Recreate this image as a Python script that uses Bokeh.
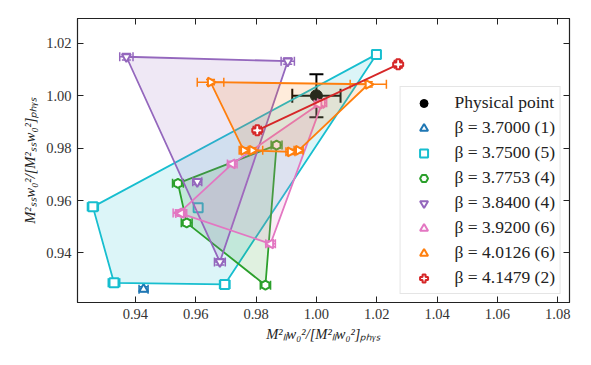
import math
from bokeh.plotting import figure
from bokeh.models import (Legend, LegendItem, LinearAxis, FixedTicker,
                          CustomJSTickFormatter, Range1d)
from bokeh.embed import file_html
from bokeh.resources import INLINE

# ---------------- data ----------------
phys_x = [1.0000]
phys_y = [1.0000]
phys_xerr = [0.0080]
phys_yerr = [0.0082]

b3700_x = [0.9427]
b3700_y = [0.9262]
b3700_xerr = [0.0015]
b3700_yerr = [0.0009]

b3750_x = [0.9259, 0.9329, 0.9696, 1.0199, 0.9608]
b3750_y = [0.9576, 0.9286, 0.9280, 1.0158, 0.9573]
b3750_xerr = [0.0018, 0.0019, 0.0017, 0.0013, 0.0013]
b3750_yerr = [0.0012, 0.0011, 0.0011, 0.0013, 0.0012]

b3775_x = [0.9541, 0.9570, 0.9831, 0.9868]
b3775_y = [0.9666, 0.9515, 0.9277, 0.9812]
b3775_xerr = [0.0018, 0.0018, 0.0017, 0.0018]
b3775_yerr = [0.0011, 0.0011, 0.0010, 0.0011]

b3840_x = [0.9370, 0.9905, 0.9605, 0.9680]
b3840_y = [1.0149, 1.0132, 0.9672, 0.9366]
b3840_xerr = [0.0022, 0.0022, 0.0015, 0.0018]
b3840_yerr = [0.0012, 0.0012, 0.0011, 0.0012]

b3920_x = [1.0019, 1.0008, 0.9721, 0.9545, 0.9552, 0.9848]
b3920_y = [0.9973, 0.9968, 0.9740, 0.9553, 0.9551, 0.9435]
b3920_xerr = [0.0015, 0.0015, 0.0016, 0.0020, 0.0018, 0.0016]
b3920_yerr = [0.0011, 0.0011, 0.0010, 0.0011, 0.0011, 0.0011]

b4013_x = [0.9649, 1.0172, 0.9759, 0.9787, 0.9914, 0.9941]
b4013_y = [1.0052, 1.0044, 0.9792, 0.9792, 0.9786, 0.9792]
b4013_xerr = [0.0044, 0.0060, 0.0015, 0.0035, 0.0015, 0.0015]
b4013_yerr = [0.0010, 0.0010, 0.0010, 0.0010, 0.0010, 0.0010]

b4148_x = [0.9804, 1.0271]
b4148_y = [0.9868, 1.0120]
b4148_xerr = [0.0013, 0.0012]
b4148_yerr = [0.0012, 0.0012]

x_ticks = [0.94, 0.96, 0.98, 1.00, 1.02, 1.04, 1.06, 1.08]
y_ticks = [0.94, 0.96, 0.98, 1.00, 1.02]

series = [
    ("β = 3.7000 (1)", b3700_x, b3700_y, b3700_xerr, b3700_yerr, "#1f77b4", "triangle", 0.0),
    ("β = 3.7500 (5)", b3750_x, b3750_y, b3750_xerr, b3750_yerr, "#17becf", "square", 0.0),
    ("β = 3.7753 (4)", b3775_x, b3775_y, b3775_xerr, b3775_yerr, "#2ca02c", "hex", math.pi / 2),
    ("β = 3.8400 (4)", b3840_x, b3840_y, b3840_xerr, b3840_yerr, "#9467bd", "inverted_triangle", 0.0),
    ("β = 3.9200 (6)", b3920_x, b3920_y, b3920_xerr, b3920_yerr, "#e377c2", "triangle", math.pi / 2),
    ("β = 4.0126 (6)", b4013_x, b4013_y, b4013_xerr, b4013_yerr, "#ff7f0e", "triangle", -math.pi / 2),
    ("β = 4.1479 (2)", b4148_x, b4148_y, b4148_xerr, b4148_yerr, "#d62728", "plus", 0.0),
]


def convex_hull(xs, ys):
    pts = sorted(set(zip(xs, ys)))
    if len(pts) < 3:
        return pts

    def cross(o, a, b):
        return (a[0] - o[0]) * (b[1] - o[1]) - (a[1] - o[1]) * (b[0] - o[0])

    lower, upper = [], []
    for pt in pts:
        while len(lower) >= 2 and cross(lower[-2], lower[-1], pt) <= 0:
            lower.pop()
        lower.append(pt)
    for pt in reversed(pts):
        while len(upper) >= 2 and cross(upper[-2], upper[-1], pt) <= 0:
            upper.pop()
        upper.append(pt)
    return lower[:-1] + upper[:-1]


FONT = "Liberation Serif"

p = figure(frame_width=492, frame_height=284, output_backend="svg",
           toolbar_location=None,
           x_range=Range1d(0.9208, 1.0839), y_range=Range1d(0.9211, 1.0295),
           min_border_left=77, min_border_top=18, min_border_right=10,
           min_border_bottom=55)
p.grid.visible = False
p.background_fill_color = "white"
p.border_fill_color = "white"
p.outline_line_color = "#222222"
p.outline_line_width = 1.2

for ax in (p.xaxis[0], p.yaxis[0]):
    ax.major_tick_in = 6
    ax.major_tick_out = 0
    ax.minor_tick_in = 0
    ax.minor_tick_out = 0
    ax.axis_line_color = "#222222"
    ax.major_tick_line_color = "#222222"
    ax.major_label_text_font = FONT
    ax.major_label_text_font_size = "14.5px"
    ax.major_label_text_color = "#333333"
    ax.axis_label_text_font = FONT
    ax.axis_label_text_font_size = "14.5px"
    ax.axis_label_text_font_style = "italic"
    ax.axis_label_text_color = "#222222"

p.xaxis[0].ticker = FixedTicker(ticks=x_ticks)
p.yaxis[0].ticker = FixedTicker(ticks=y_ticks)
p.xaxis[0].formatter = CustomJSTickFormatter(code="return tick.toFixed(2)")
p.yaxis[0].formatter = CustomJSTickFormatter(code="return tick.toFixed(2)")
p.xaxis[0].axis_label = "M²ₗₗw₀²/[M²ₗₗw₀²]ₚₕᵧₛ"
p.yaxis[0].axis_label = "M²ₛₛw₀²/[M²ₛₛw₀²]ₚₕᵧₛ"
p.xaxis[0].major_label_standoff = 6
p.xaxis[0].axis_label_standoff = 4
p.yaxis[0].major_label_standoff = 6

for loc, ticks in (("above", x_ticks), ("right", y_ticks)):
    ax = LinearAxis(ticker=FixedTicker(ticks=ticks),
                    formatter=CustomJSTickFormatter(code="return ''"),
                    major_tick_in=6, major_tick_out=0,
                    minor_tick_in=0, minor_tick_out=0,
                    major_label_standoff=0,
                    axis_line_color="#222222", major_tick_line_color="#222222")
    p.add_layout(ax, loc)

legend_items = []

# physical point
px_lo = [x - e for x, e in zip(phys_x, phys_xerr)]
px_hi = [x + e for x, e in zip(phys_x, phys_xerr)]
py_lo = [y - e for y, e in zip(phys_y, phys_yerr)]
py_hi = [y + e for y, e in zip(phys_y, phys_yerr)]
p.segment(px_lo, phys_y, px_hi, phys_y, line_color="black", line_width=2)
p.segment(phys_x, py_lo, phys_x, py_hi, line_color="black", line_width=2)
p.scatter(px_lo + px_hi, phys_y * 2, marker="dash", angle=math.pi / 2, size=14,
          line_color="black", line_width=2)
p.scatter(phys_x * 2, py_lo + py_hi, marker="dash", size=14,
          line_color="black", line_width=2)
r_phys = p.scatter(phys_x, phys_y, marker="circle", size=12,
                   fill_color="black", line_color="black")
legend_items.append(LegendItem(label="Physical point", renderers=[r_phys]))

for label, xs, ys, xe, ye, col, mk, ang in series:
    hull = convex_hull(xs, ys)
    if len(hull) >= 3:
        p.patch([h[0] for h in hull], [h[1] for h in hull], fill_color=col,
                fill_alpha=0.15, line_color=col, line_width=1.8)
    elif len(hull) == 2:
        p.line([h[0] for h in hull], [h[1] for h in hull], line_color=col,
               line_width=1.8)
    xl = [x - e for x, e in zip(xs, xe)]
    xh = [x + e for x, e in zip(xs, xe)]
    yl = [y - e for y, e in zip(ys, ye)]
    yh = [y + e for y, e in zip(ys, ye)]
    p.segment(xl, ys, xh, ys, line_color=col, line_width=1.5)
    p.segment(xs, yl, xs, yh, line_color=col, line_width=1.5)
    p.scatter(xl + xh, ys + ys, marker="dash", angle=math.pi / 2, size=9,
              line_color=col, line_width=1.5)
    p.scatter(xs + xs, yl + yh, marker="dash", size=9,
              line_color=col, line_width=1.5)
    r = p.scatter(xs, ys, marker=mk, angle=ang, size=9 if mk != "plus" else 10,
                  fill_color="white", line_color=col, line_width=2)
    legend_items.append(LegendItem(label=label, renderers=[r]))

legend = Legend(items=legend_items, location="bottom_right", margin=8,
                padding=5, spacing=4, label_height=20, glyph_height=20,
                glyph_width=36, label_standoff=13,
                label_text_font=FONT, label_text_font_size="17.5px",
                label_text_color="#222222",
                border_line_color="#cccccc", border_line_width=1,
                background_fill_color="white", background_fill_alpha=0.85)
p.add_layout(legend)

open("out.html", "w").write(file_html(p, INLINE))
